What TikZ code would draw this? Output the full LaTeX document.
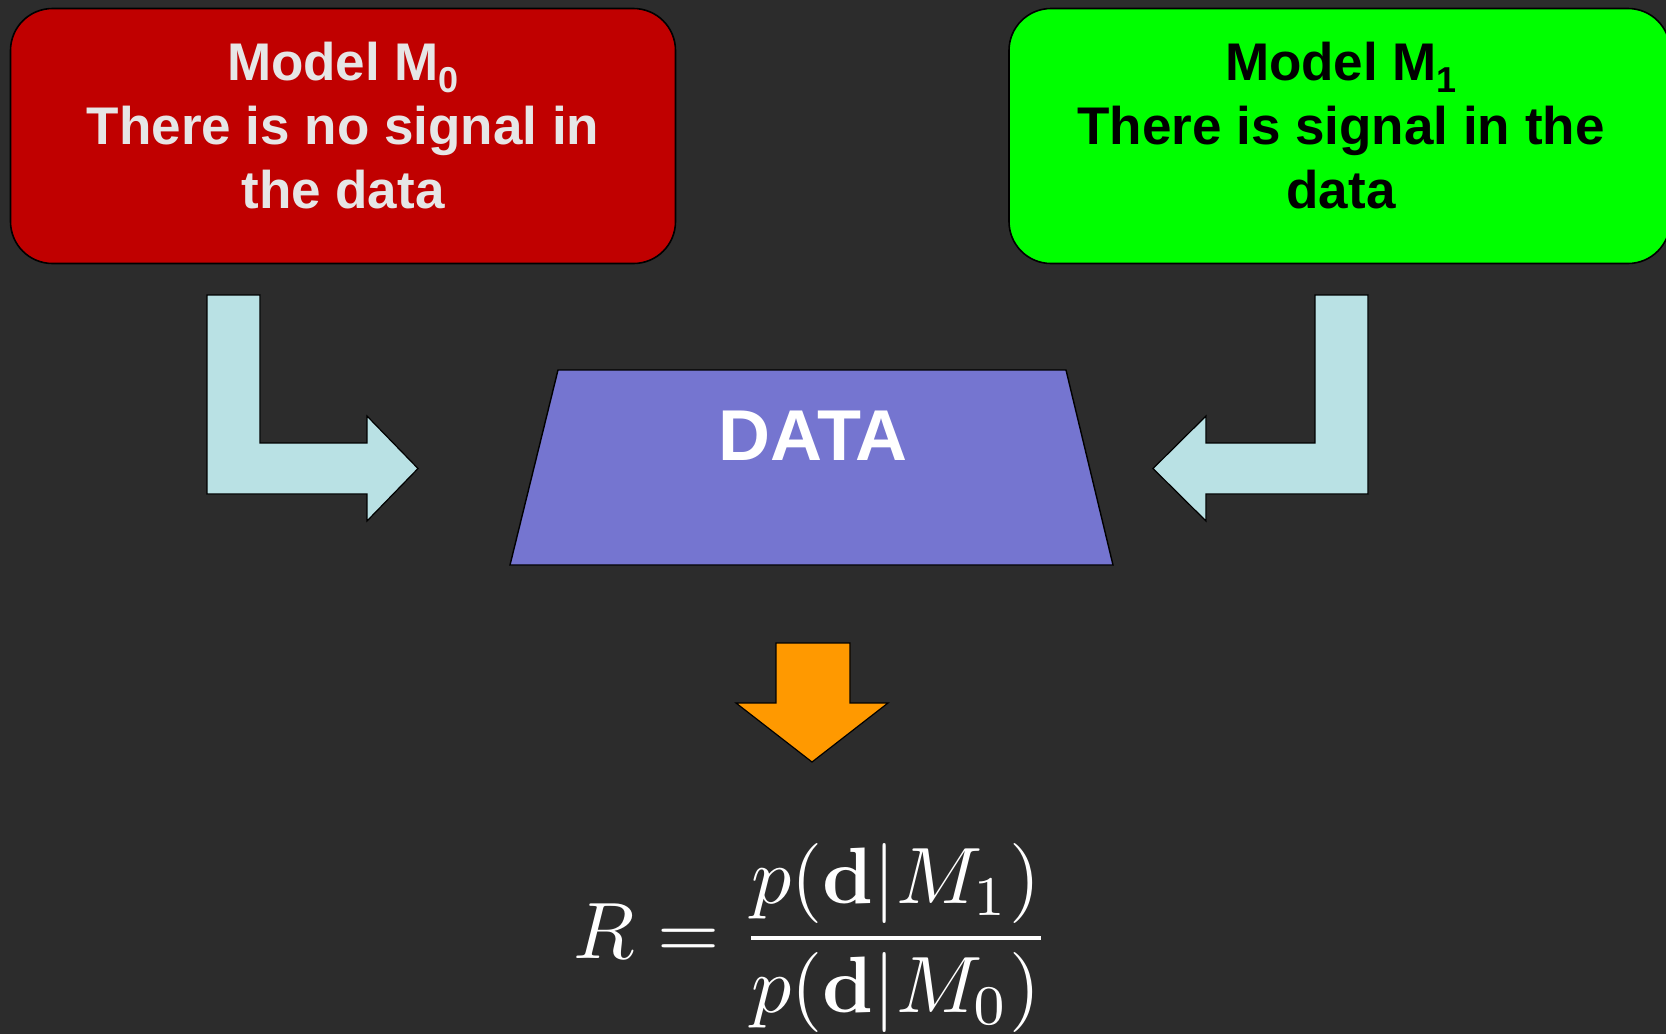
\documentclass[tikz,border=0pt]{standalone}
\usepackage[no-math]{fontspec}
\setmainfont{Liberation Sans}
\usepackage{amsmath}
\usepackage{graphicx}
\definecolor{bg}{RGB}{44,44,44}
\definecolor{redfill}{RGB}{192,0,0}
\definecolor{greenfill}{RGB}{0,255,0}
\definecolor{txtgray}{RGB}{230,230,230}
\definecolor{lblue}{RGB}{185,225,228}
\definecolor{datafill}{RGB}{117,117,208}
\definecolor{orangefill}{RGB}{255,153,0}
\newcommand{\mysub}[1]{\raisebox{-12pt}{\fontsize{36}{36}\selectfont #1}}
\tikzset{
  modelbox/.style={draw=black, line width=1.6pt, rounded corners=42pt, inner sep=0pt},
  boxtext/.style={align=center, inner sep=0pt, font=\fontsize{53}{64}\selectfont\bfseries},
  blockarrow/.style={draw=black, line width=1.2pt, line join=miter},
}
\begin{document}
\begin{tikzpicture}[x=1pt,y=-1pt]
\useasboundingbox (0,0) rectangle (1666,1034);
\fill[bg] (0,0) rectangle (1666,1034);

% model boxes
\node[modelbox, fill=redfill, minimum width=665pt, minimum height=255pt] (m0) at (343,136) {};
\node[boxtext, text=txtgray] (m0t) at (343,126) {Model M\mysub{0}\\There is no signal in\\the data};
\node[modelbox, fill=greenfill, minimum width=661pt, minimum height=255pt] (m1) at (1339.5,136) {};
\node[boxtext, text=black] (m1t) at (1341,126) {Model M\mysub{1}\\There is signal in the\\data};

% data trapezoid
\coordinate (dtl) at (558,370);
\coordinate (dtr) at (1066,370);
\coordinate (dbr) at (1113,565);
\coordinate (dbl) at (510,565);
\filldraw[fill=datafill, draw=black, line width=1.4pt] (dtl) -- (dtr) -- (dbr) -- (dbl) -- cycle;
\node[text=white, inner sep=0pt, font=\fontsize{72}{72}\selectfont\bfseries] (data) at (813,436) {DATA};

% left L-shaped arrow
\filldraw[blockarrow, fill=lblue] (207,295) -- (260,295) -- (260,443) -- (367,443) -- (367,416)
  -- (418,468.5) -- (367,521) -- (367,494) -- (207,494) -- cycle;
% right L-shaped arrow
\filldraw[blockarrow, fill=lblue] (1368,295) -- (1315,295) -- (1315,443) -- (1206,443) -- (1206,416)
  -- (1153,468.5) -- (1206,521) -- (1206,494) -- (1368,494) -- cycle;

% orange down arrow
\filldraw[blockarrow, fill=orangefill] (776,643) -- (850,643) -- (850,703) -- (888,703)
  -- (812,762) -- (736,703) -- (776,703) -- cycle;

% equation
\node[text=white, inner sep=0pt, anchor=base] (eq) at (812,958)
  {\scalebox{8.0}{$\displaystyle R=\frac{p(\mathbf{d}|M_1)}{p(\mathbf{d}|M_0)}$}};
\end{tikzpicture}
\end{document}
